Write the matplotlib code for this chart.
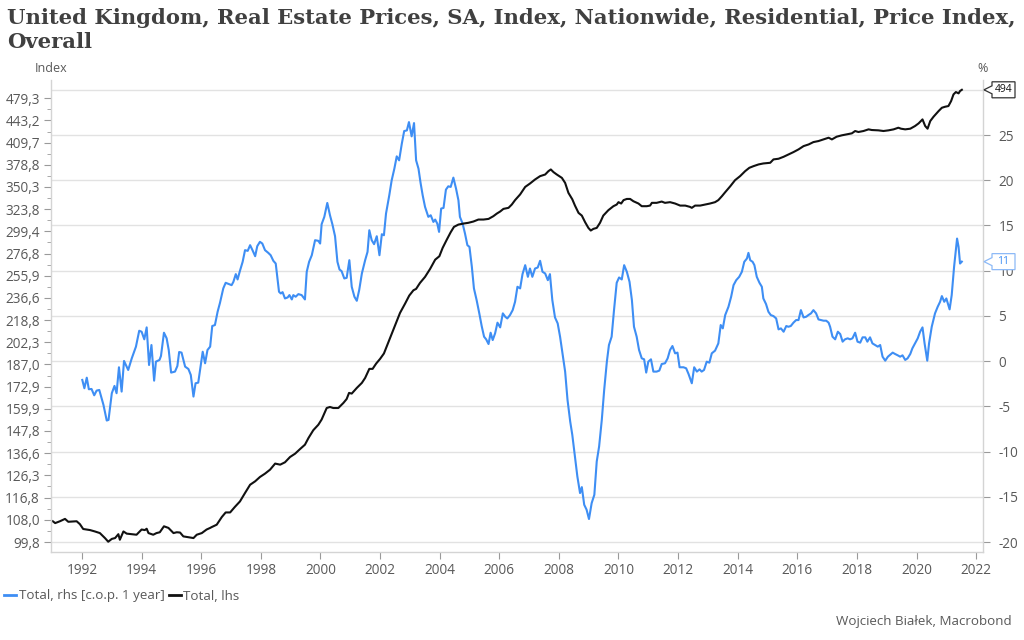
#!/usr/bin/env python3
"""UK Nationwide house price index (lhs, log) and its yearly change (rhs)."""
import numpy as np
import matplotlib
matplotlib.use('Agg')
import matplotlib.pyplot as plt
from matplotlib.lines import Line2D
from matplotlib.patches import Polygon

plt.rcParams['font.family'] = ['Open Sans', 'DejaVu Sans']

TITLE = ('United Kingdom, Real Estate Prices, SA, Index, Nationwide, Residential, Price Index,\n'
         'Overall')
CREDIT = 'Wojciech Białek, Macrobond'
LABEL_BLUE = 'Total, rhs [c.o.p. 1 year]'
LABEL_BLACK = 'Total, lhs'

### total index, lhs (decimal year, index)
black_t = [1991.02, 1991.10, 1991.26, 1991.43, 1991.54, 1991.82, 1991.93, 1992.04, 1992.27, 1992.43,
           1992.60, 1992.77, 1992.88, 1993.00, 1993.11, 1993.22, 1993.27, 1993.39, 1993.50, 1993.83,
           1994.00, 1994.11, 1994.17, 1994.23, 1994.39, 1994.50, 1994.61, 1994.75, 1994.90, 1995.07,
           1995.18, 1995.29, 1995.40, 1995.74, 1995.85, 1996.02, 1996.18, 1996.30, 1996.35, 1996.52,
           1996.69, 1996.82, 1996.97, 1997.13, 1997.30, 1997.47, 1997.64, 1997.81, 1997.97, 1998.14,
           1998.31, 1998.48, 1998.65, 1998.81, 1998.98, 1999.15, 1999.32, 1999.48, 1999.60, 1999.76,
           1999.93, 2000.04, 2000.21, 2000.32, 2000.43, 2000.60, 2000.77, 2000.88, 2000.96, 2001.05,
           2001.22, 2001.39, 2001.50, 2001.64, 2001.75, 2001.87, 2002.00, 2002.13, 2002.28, 2002.43,
           2002.56, 2002.67, 2002.84, 2002.98, 2003.12, 2003.21, 2003.34, 2003.51, 2003.68, 2003.85,
           2003.99, 2004.10, 2004.24, 2004.37, 2004.48, 2004.63, 2004.80, 2004.96, 2005.13, 2005.30,
           2005.47, 2005.64, 2005.80, 2005.92, 2006.03, 2006.14, 2006.31, 2006.42, 2006.53, 2006.70,
           2006.87, 2007.03, 2007.20, 2007.37, 2007.54, 2007.65, 2007.73, 2007.82, 2007.93, 2008.10,
           2008.21, 2008.32, 2008.45, 2008.54, 2008.66, 2008.77, 2008.88, 2008.99, 2009.07, 2009.16,
           2009.27, 2009.38, 2009.49, 2009.66, 2009.83, 2009.94, 2010.00, 2010.09, 2010.17, 2010.28,
           2010.39, 2010.50, 2010.67, 2010.78, 2010.95, 2011.06, 2011.12, 2011.28, 2011.45, 2011.56,
           2011.73, 2011.90, 2012.07, 2012.24, 2012.40, 2012.46, 2012.57, 2012.74, 2012.91, 2013.07,
           2013.24, 2013.35, 2013.47, 2013.58, 2013.75, 2013.91, 2014.08, 2014.25, 2014.39, 2014.53,
           2014.70, 2014.86, 2015.09, 2015.20, 2015.37, 2015.54, 2015.70, 2015.87, 2016.04, 2016.21,
           2016.38, 2016.54, 2016.71, 2016.88, 2017.05, 2017.16, 2017.32, 2017.49, 2017.66, 2017.83,
           2017.94, 2018.05, 2018.22, 2018.39, 2018.50, 2018.72, 2018.89, 2019.06, 2019.23, 2019.39,
           2019.48, 2019.62, 2019.79, 2019.95, 2020.07, 2020.20, 2020.29, 2020.37, 2020.46, 2020.57,
           2020.74, 2020.85, 2020.96, 2021.07, 2021.16, 2021.24, 2021.32, 2021.41, 2021.46, 2021.52]
black_v = [107.4, 106.7, 107.4, 108.3, 107.2, 107.4, 106.3, 104.5, 104.1, 103.6,
           103.0, 101.2, 99.9, 100.9, 101.2, 102.6, 100.6, 103.6, 102.8, 102.4,
           104.3, 104.1, 104.6, 103.0, 102.4, 103.0, 103.3, 105.5, 104.9, 103.0,
           103.3, 103.2, 101.8, 101.2, 102.4, 103.0, 104.3, 104.9, 105.2, 106.1,
           109.0, 110.8, 110.8, 113.0, 115.2, 118.7, 122.2, 123.7, 125.6, 127.1,
           128.9, 131.7, 131.2, 132.3, 134.8, 136.4, 138.7, 140.8, 144.2, 148.2,
           151.1, 153.9, 160.3, 160.9, 160.3, 160.3, 163.2, 165.5, 169.1, 168.7,
           172.1, 175.2, 178.3, 184.1, 184.1, 187.6, 190.7, 194.4, 202.3, 210.3,
           217.9, 224.4, 231.9, 238.6, 243.1, 244.3, 249.5, 254.9, 262.2, 270.9,
           274.2, 282.4, 290.8, 298.5, 304.2, 306.7, 307.8, 308.6, 310.0, 312.2,
           312.2, 312.9, 315.9, 318.9, 321.2, 324.2, 325.4, 329.2, 334.4, 341.2,
           350.4, 354.6, 359.7, 364.0, 366.1, 370.5, 372.7, 369.2, 366.1, 361.8,
           355.4, 343.1, 335.4, 328.0, 319.6, 316.6, 309.3, 303.1, 300.3, 302.1,
           303.1, 308.6, 316.6, 322.7, 327.3, 329.2, 332.0, 330.4, 334.4, 335.8,
           335.8, 333.1, 330.4, 327.3, 327.3, 328.0, 331.2, 331.2, 332.7, 331.2,
           332.0, 330.4, 328.0, 328.0, 326.5, 325.4, 328.0, 328.0, 329.2, 330.4,
           332.0, 334.4, 339.1, 343.9, 351.2, 358.8, 364.0, 370.5, 374.9, 377.1,
           379.4, 380.7, 381.6, 386.2, 387.1, 389.8, 393.0, 396.3, 400.1, 404.8,
           407.2, 410.6, 412.1, 414.5, 417.0, 414.5, 418.5, 420.5, 422.0, 423.5,
           427.0, 425.5, 427.0, 429.5, 428.5, 428.0, 427.0, 428.0, 429.5, 432.0,
           430.5, 429.5, 430.5, 434.6, 438.7, 444.9, 434.6, 430.5, 442.3, 449.1,
           458.2, 463.6, 465.3, 466.4, 474.7, 486.0, 490.1, 487.8, 491.9, 494.0]

### change over 1 year in %, rhs
blue_t = [1992.01, 1992.08, 1992.16, 1992.23, 1992.32, 1992.41, 1992.49, 1992.58, 1992.72, 1992.83,
          1992.89, 1993.00, 1993.09, 1993.16, 1993.24, 1993.33, 1993.41, 1993.55, 1993.67, 1993.81,
          1993.92, 1994.00, 1994.09, 1994.17, 1994.25, 1994.33, 1994.42, 1994.48, 1994.60, 1994.65,
          1994.75, 1994.84, 1994.91, 1994.99, 1995.12, 1995.20, 1995.26, 1995.34, 1995.46, 1995.57,
          1995.65, 1995.74, 1995.81, 1995.90, 1996.05, 1996.13, 1996.21, 1996.30, 1996.37, 1996.46,
          1996.55, 1996.63, 1996.74, 1996.82, 1996.93, 1997.02, 1997.08, 1997.16, 1997.22, 1997.30,
          1997.39, 1997.47, 1997.56, 1997.64, 1997.72, 1997.81, 1997.88, 1997.97, 1998.05, 1998.14,
          1998.25, 1998.33, 1998.42, 1998.50, 1998.61, 1998.67, 1998.73, 1998.81, 1998.90, 1998.96,
          1999.04, 1999.09, 1999.17, 1999.26, 1999.37, 1999.48, 1999.54, 1999.62, 1999.71, 1999.82,
          1999.93, 1999.99, 2000.04, 2000.13, 2000.23, 2000.32, 2000.40, 2000.49, 2000.57, 2000.64,
          2000.71, 2000.80, 2000.88, 2000.97, 2001.05, 2001.14, 2001.22, 2001.30, 2001.39, 2001.50,
          2001.58, 2001.64, 2001.72, 2001.80, 2001.89, 2001.98, 2002.06, 2002.13, 2002.20, 2002.31,
          2002.39, 2002.48, 2002.56, 2002.64, 2002.73, 2002.81, 2002.90, 2002.97, 2003.06, 2003.14,
          2003.21, 2003.29, 2003.36, 2003.43, 2003.51, 2003.62, 2003.70, 2003.79, 2003.85, 2003.92,
          2003.98, 2004.05, 2004.13, 2004.21, 2004.29, 2004.37, 2004.46, 2004.55, 2004.63, 2004.68,
          2004.77, 2004.85, 2004.93, 2005.00, 2005.08, 2005.15, 2005.24, 2005.33, 2005.41, 2005.49,
          2005.56, 2005.64, 2005.71, 2005.78, 2005.86, 2005.94, 2006.03, 2006.12, 2006.20, 2006.27,
          2006.36, 2006.45, 2006.53, 2006.61, 2006.70, 2006.78, 2006.87, 2006.96, 2007.03, 2007.11,
          2007.20, 2007.29, 2007.37, 2007.45, 2007.54, 2007.63, 2007.70, 2007.78, 2007.87, 2007.96,
          2008.04, 2008.12, 2008.21, 2008.29, 2008.38, 2008.45, 2008.54, 2008.62, 2008.71, 2008.77,
          2008.85, 2008.93, 2009.01, 2009.10, 2009.19, 2009.27, 2009.35, 2009.44, 2009.52, 2009.61,
          2009.68, 2009.77, 2009.85, 2009.94, 2010.02, 2010.11, 2010.19, 2010.28, 2010.37, 2010.45,
          2010.52, 2010.61, 2010.69, 2010.78, 2010.86, 2010.93, 2011.00, 2011.09, 2011.17, 2011.28,
          2011.37, 2011.45, 2011.56, 2011.65, 2011.73, 2011.81, 2011.90, 2011.98, 2012.05, 2012.18,
          2012.27, 2012.35, 2012.46, 2012.54, 2012.63, 2012.72, 2012.79, 2012.87, 2012.96, 2013.05,
          2013.13, 2013.24, 2013.35, 2013.43, 2013.50, 2013.58, 2013.69, 2013.78, 2013.86, 2013.95,
          2014.05, 2014.14, 2014.22, 2014.31, 2014.36, 2014.42, 2014.50, 2014.56, 2014.64, 2014.73,
          2014.81, 2014.86, 2014.95, 2015.03, 2015.11, 2015.20, 2015.29, 2015.37, 2015.45, 2015.54,
          2015.63, 2015.70, 2015.78, 2015.87, 2015.96, 2016.04, 2016.12, 2016.21, 2016.30, 2016.37,
          2016.46, 2016.54, 2016.63, 2016.71, 2016.79, 2016.88, 2016.97, 2017.05, 2017.10, 2017.18,
          2017.27, 2017.36, 2017.44, 2017.52, 2017.60, 2017.69, 2017.77, 2017.85, 2017.94, 2018.02,
          2018.11, 2018.19, 2018.28, 2018.35, 2018.44, 2018.52, 2018.61, 2018.70, 2018.78, 2018.86,
          2018.95, 2019.04, 2019.11, 2019.20, 2019.28, 2019.37, 2019.45, 2019.53, 2019.62, 2019.70,
          2019.79, 2019.86, 2019.95, 2020.04, 2020.12, 2020.20, 2020.27, 2020.36, 2020.42, 2020.51,
          2020.62, 2020.71, 2020.79, 2020.85, 2020.93, 2021.00, 2021.05, 2021.11, 2021.18, 2021.26,
          2021.32, 2021.36, 2021.41, 2021.46, 2021.52]
blue_v = [-2.08, -3.00, -1.83, -3.11, -3.08, -3.78, -3.26, -3.19, -4.84, -6.57,
          -6.50, -3.55, -2.74, -3.55, -0.68, -3.37, 0.02, -0.98, 0.31, 1.60,
          3.36, 3.25, 2.41, 3.73, -0.43, 1.78, -2.16, -0.06, 0.13, 0.57,
          3.14, 2.52, 1.23, -1.27, -1.16, -0.54, 1.01, 0.94, -0.61, -0.87,
          -1.53, -3.92, -2.45, -2.38, 1.04, -0.24, 1.23, 1.60, 3.88, 3.99,
          5.46, 6.45, 8.04, 8.66, 8.51, 8.40, 8.77, 9.62, 9.03, 9.99,
          10.98, 12.27, 12.19, 12.82, 12.27, 11.60, 12.71, 13.19, 13.00, 12.27,
          11.97, 11.71, 11.09, 10.79, 7.67, 7.48, 7.63, 6.93, 7.04, 7.30,
          6.82, 7.30, 7.12, 7.41, 7.30, 6.82, 9.88, 10.98, 11.71, 13.37,
          13.30, 13.00, 15.14, 15.95, 17.49, 16.13, 15.14, 13.81, 10.98, 10.13,
          9.95, 9.14, 9.21, 11.16, 8.22, 7.12, 6.67, 7.85, 9.69, 11.16,
          12.08, 14.47, 13.37, 12.93, 13.81, 11.71, 14.03, 13.92, 16.31, 18.34,
          19.99, 21.28, 22.64, 22.20, 24.04, 25.44, 25.51, 26.43, 24.85, 26.32,
          22.20, 21.28, 19.70, 18.34, 17.05, 15.95, 16.13, 15.39, 15.65, 15.21,
          14.29, 16.87, 16.94, 18.96, 19.33, 19.26, 20.29, 19.07, 17.78, 15.95,
          15.21, 14.11, 12.82, 12.63, 10.43, 8.04, 6.75, 5.28, 3.88, 2.70,
          2.41, 1.89, 3.14, 2.33, 3.07, 4.25, 3.73, 5.28, 4.91, 4.72,
          5.09, 5.64, 6.56, 8.22, 8.04, 9.62, 10.61, 9.32, 10.24, 9.32,
          10.24, 10.35, 11.09, 9.88, 9.69, 8.95, 9.62, 6.75, 4.83, 4.17,
          2.70, 0.86, -1.16, -4.29, -6.68, -8.15, -10.54, -12.75, -14.59, -13.93,
          -15.88, -16.43, -17.46, -15.70, -14.78, -11.10, -9.44, -6.50, -3.19, -0.06,
          1.78, 2.70, 5.64, 8.66, 9.25, 9.03, 10.61, 9.88, 8.77, 6.75,
          3.80, 2.70, 1.23, 0.31, 0.20, -1.27, -0.06, 0.20, -1.16, -1.16,
          -1.05, -0.32, -0.24, 0.31, 1.23, 1.67, 0.86, 0.94, -0.68, -0.68,
          -0.79, -1.42, -2.45, -0.68, -1.16, -0.91, -1.16, -0.98, -0.06, -0.17,
          0.86, 1.16, 1.96, 3.99, 3.62, 5.09, 6.01, 7.12, 8.40, 8.95,
          9.32, 9.88, 10.98, 11.35, 11.97, 11.16, 10.98, 10.61, 9.32, 8.66,
          8.22, 6.93, 6.31, 5.46, 5.09, 4.98, 4.72, 3.51, 3.62, 3.25,
          3.88, 3.80, 3.88, 4.25, 4.54, 4.54, 5.64, 4.83, 4.91, 5.09,
          5.28, 5.64, 5.28, 4.61, 4.54, 4.47, 4.47, 4.25, 3.80, 2.70,
          2.41, 3.25, 2.99, 2.15, 2.41, 2.52, 2.41, 2.52, 3.14, 2.15,
          2.04, 2.63, 2.63, 2.15, 2.63, 1.96, 1.78, 1.60, 1.78, 0.49,
          0.05, 0.49, 0.68, 0.94, 0.79, 0.64, 0.49, 0.64, 0.13, 0.31,
          0.79, 1.41, 1.96, 2.52, 3.25, 3.73, 1.96, 0.05, 1.96, 3.80,
          5.28, 6.01, 6.56, 7.19, 6.56, 6.93, 6.38, 5.72, 7.30, 10.43,
          12.27, 13.55, 12.63, 10.79, 11.00]

left_ticks = [99.8, 108.0, 116.8, 126.3, 136.6, 147.8, 159.9, 172.9, 187.0, 202.3, 218.8,
              236.6, 255.9, 276.8, 299.4, 323.8, 350.3, 378.8, 409.7, 443.2, 479.3]
right_ticks = [-20, -15, -10, -5, 0, 5, 10, 15, 20, 25, 30]
year_ticks = list(range(1992, 2023, 2))

BLUE = '#3e8ef4'
BLACK = '#111111'
GRID = '#e2e2e2'
SPINE = '#d4d4d4'
TXT = '#595959'
W, H = 1024, 640


def fig_xy(px, py):
    # pixel position (from top left) -> figure fraction
    return px / W, 1 - py / H


def callout(fig, ax, xval, yval, text, edge, color):
    _, ydisp = ax.transData.transform((xval, yval))
    py = H - ydisp
    pts = [(984, py), (992, py - 4), (992, py - 8), (1015, py - 8),
           (1015, py + 8), (992, py + 8), (992, py + 4)]
    poly = Polygon([fig_xy(*p) for p in pts], closed=True, transform=fig.transFigure,
                   facecolor='white', edgecolor=edge, lw=0.9, zorder=10)
    fig.add_artist(poly)
    fig.text(*fig_xy(1003.5, py), text, ha='center', va='center', fontsize=7.5,
             color=color, zorder=11)


def make_plot():
    fig = plt.figure(figsize=(W / 100, H / 100), dpi=100)
    x0, y0 = fig_xy(51, 552)
    x1, y1 = fig_xy(983, 80)
    ax = fig.add_axes([x0, y0, x1 - x0, y1 - y0])
    ax2 = ax.twinx()
    ax.set_zorder(2)
    ax.patch.set_visible(False)

    ### rhs: -20 at 542 px, 30 at 89.8 px, axes spans 80..552 px
    ppu = (542.0 - 89.8) / 50.0
    r_lo = -20 - (552 - 542.0) / ppu
    r_hi = 30 + (89.8 - 80) / ppu
    ax2.set_ylim(r_lo, r_hi)
    # lhs is log, tied to rhs: 99.8 <-> -20, 494 <-> 30
    k = np.log(494.0 / 99.8) / 50.0
    ax.set_yscale('log')
    ax.set_ylim(99.8 * np.exp(k * (r_lo + 20)), 99.8 * np.exp(k * (r_hi + 20)))
    ax.set_xlim(1990.96, 2022.23)

    ax2.plot(blue_t, blue_v, color=BLUE, lw=1.5, solid_joinstyle='round')
    ax.plot(black_t, black_v, color=BLACK, lw=1.5, solid_joinstyle='round')

    # gridlines follow the rhs ticks
    ax2.set_yticks(right_ticks)
    ax2.set_yticklabels([str(v) if v < 30 else '' for v in right_ticks])
    ax2.grid(axis='y', color=GRID, lw=1.0)
    ax2.set_axisbelow(True)

    ax.yaxis.set_major_locator(plt.FixedLocator(left_ticks))
    ax.yaxis.set_major_formatter(plt.FixedFormatter([f'{v:.1f}'.replace('.', ',') for v in left_ticks]))
    minors = [np.sqrt(a * b) for a, b in zip(left_ticks[:-1], left_ticks[1:])]
    ax.yaxis.set_minor_locator(plt.FixedLocator(minors))
    ax.yaxis.set_minor_formatter(plt.NullFormatter())

    ax.set_xticks(year_ticks)
    ax.set_xticklabels([str(y) for y in year_ticks])

    for a in (ax, ax2):
        for s in a.spines.values():
            s.set_color(SPINE)
            s.set_linewidth(1.0)
        a.spines['top'].set_visible(False)
    ax.spines['right'].set_visible(False)
    ax2.spines['left'].set_visible(False)
    ax2.spines['bottom'].set_visible(False)

    ax.tick_params(axis='y', which='major', length=5, color='#9a9a9a', labelsize=9.8,
                   labelcolor=TXT, pad=3)
    ax.tick_params(axis='y', which='minor', length=3, color='#9a9a9a')
    ax.tick_params(axis='x', length=5, color='#9a9a9a', labelsize=9.8, labelcolor=TXT, pad=3)
    ax2.tick_params(axis='y', length=5, color='#9a9a9a', labelsize=9.8, labelcolor=TXT, pad=6)

    fig.text(*fig_xy(51, 68), 'Index', ha='center', va='center', fontsize=9, color=TXT)
    fig.text(*fig_xy(983, 68), '%', ha='center', va='center', fontsize=9, color=TXT)

    fig.text(*fig_xy(7, 8), TITLE, ha='left', va='top', fontsize=15.2, fontweight='bold',
             family='DejaVu Serif', color='#404040', linespacing=1.22)

    callout(fig, ax, black_t[-1], black_v[-1], f'{black_v[-1]:.0f}', '#333333', '#111111')
    callout(fig, ax2, blue_t[-1], blue_v[-1], f'{blue_v[-1]:.0f}', '#8dbaf7', BLUE)

    handles = [Line2D([], [], color=BLUE, lw=2), Line2D([], [], color=BLACK, lw=2)]
    lgd = fig.legend(handles, [LABEL_BLUE, LABEL_BLACK], loc='center left',
                     bbox_to_anchor=fig_xy(4, 596), ncol=2, frameon=False, fontsize=9.6,
                     handlelength=0.9, handletextpad=0.2, columnspacing=0.3,
                     borderaxespad=0, borderpad=0)
    for t in lgd.get_texts():
        t.set_color(TXT)

    fig.text(*fig_xy(1012, 621), CREDIT, ha='right', va='center', fontsize=9.6, color=TXT)

    fig.savefig('out.png', dpi=100)


if __name__ == '__main__':
    make_plot()
